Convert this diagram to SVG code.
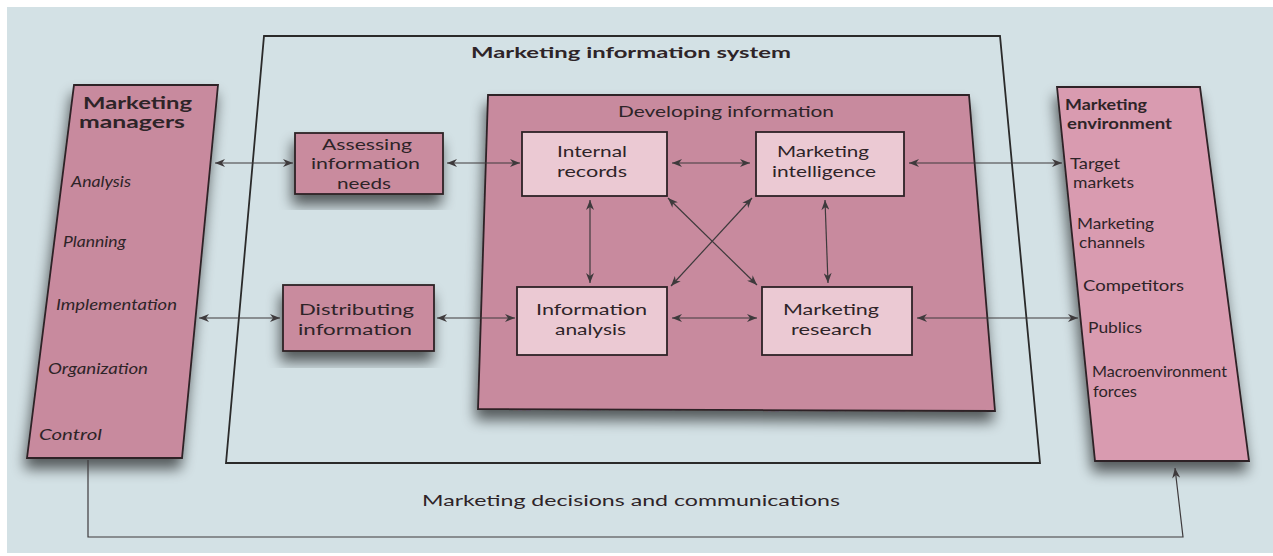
<svg xmlns="http://www.w3.org/2000/svg" width="1273" height="556" viewBox="0 0 1273 556">
<defs>
<style>
text{font-family:Lato,"Open Sans","Liberation Sans",sans-serif;fill:#2e2428;font-size:15px}
.b{font-weight:bold;font-size:16px}
.i{font-style:italic}
.panel{fill:#c88a9e;stroke:#2e2226;stroke-width:1.8}
.light{fill:#ebc9d3;stroke:#2e2226;stroke-width:1.8}
.box{fill:#c98b9e;stroke:#2e2226;stroke-width:1.8}
.env{fill:#d99bb0;stroke:#2e2226;stroke-width:1.8}
.conn line,.conn polyline{stroke:#3e3a3c;stroke-width:1.2;fill:none}
</style>
<marker id="ah" viewBox="0 0 10 8" refX="10" refY="4" markerWidth="11" markerHeight="8" markerUnits="userSpaceOnUse" orient="auto-start-reverse">
<path d="M0,0 L10,4 L0,8 L3,4 z" fill="#3e3a3c"/>
</marker>
<filter id="sh" x="-25%" y="-20%" width="150%" height="145%">
<feGaussianBlur in="SourceAlpha" stdDeviation="7"/>
<feOffset dx="-2" dy="10" result="b"/>
<feComponentTransfer><feFuncA type="linear" slope="0.6"/></feComponentTransfer>
<feMerge><feMergeNode/><feMergeNode in="SourceGraphic"/></feMerge>
</filter>
</defs>
<rect x="0" y="0" width="1273" height="556" fill="#ffffff"/>
<rect x="7" y="7" width="1266" height="546" fill="#d3e1e5"/>

<g id="mis-frame">
<polygon points="264,36 1000,36 1040,463 226,463" fill="none" stroke="#2a2a2a" stroke-width="1.8"/>
<text class="b" x="471" y="58" textLength="320" lengthAdjust="spacingAndGlyphs">Marketing information system</text>
</g>

<g id="marketing-managers">
<polygon class="panel" filter="url(#sh)" points="74,85 218,85 182,458 27,458"/>
<text class="b" x="83" y="109" textLength="109" lengthAdjust="spacingAndGlyphs" style="font-size:17px">Marketing</text>
<text class="b" x="79" y="128" textLength="106" lengthAdjust="spacingAndGlyphs" style="font-size:17px">managers</text>
<text class="i" x="71" y="187" textLength="60" lengthAdjust="spacingAndGlyphs">Analysis</text>
<text class="i" x="63" y="247" textLength="63" lengthAdjust="spacingAndGlyphs">Planning</text>
<text class="i" x="56" y="310" textLength="121" lengthAdjust="spacingAndGlyphs">Implementation</text>
<text class="i" x="48" y="374" textLength="100" lengthAdjust="spacingAndGlyphs">Organization</text>
<text class="i" x="39" y="440" textLength="63" lengthAdjust="spacingAndGlyphs">Control</text>
</g>

<g id="developing-information">
<polygon class="panel" filter="url(#sh)" points="488,95 969,95 995,411 478,409"/>
<text x="618" y="117" textLength="216" lengthAdjust="spacingAndGlyphs">Developing information</text>
</g>

<g id="assessing">
<rect class="box" filter="url(#sh)" x="295" y="133" width="148" height="61"/>
<text x="322" y="150" textLength="90" lengthAdjust="spacingAndGlyphs">Assessing</text>
<text x="311" y="169" textLength="109" lengthAdjust="spacingAndGlyphs">information</text>
<text x="337" y="189" textLength="54" lengthAdjust="spacingAndGlyphs">needs</text>
</g>

<g id="distributing">
<rect class="box" filter="url(#sh)" x="283" y="285" width="151" height="66"/>
<text x="299" y="315" textLength="115" lengthAdjust="spacingAndGlyphs">Distributing</text>
<text x="298" y="335" textLength="114" lengthAdjust="spacingAndGlyphs">information</text>
</g>

<g id="internal-records">
<rect class="light" x="522" y="132" width="145" height="64"/>
<text x="557" y="157" textLength="70" lengthAdjust="spacingAndGlyphs">Internal</text>
<text x="557" y="177" textLength="70" lengthAdjust="spacingAndGlyphs">records</text>
</g>

<g id="marketing-intelligence">
<rect class="light" x="756" y="132" width="148" height="64"/>
<text x="777" y="157" textLength="92" lengthAdjust="spacingAndGlyphs">Marketing</text>
<text x="772" y="177" textLength="104" lengthAdjust="spacingAndGlyphs">intelligence</text>
</g>

<g id="information-analysis">
<rect class="light" x="517" y="287" width="150" height="68"/>
<text x="536" y="315" textLength="111" lengthAdjust="spacingAndGlyphs">Information</text>
<text x="555" y="335" textLength="71" lengthAdjust="spacingAndGlyphs">analysis</text>
</g>

<g id="marketing-research">
<rect class="light" x="762" y="287" width="150" height="68"/>
<text x="783" y="315" textLength="96" lengthAdjust="spacingAndGlyphs">Marketing</text>
<text x="791" y="335" textLength="81" lengthAdjust="spacingAndGlyphs">research</text>
</g>

<g id="marketing-environment">
<polygon class="env" filter="url(#sh)" points="1057,87 1200,87 1249,461 1095,461"/>
<text class="b" x="1065" y="110" textLength="82" lengthAdjust="spacingAndGlyphs" style="font-size:15px">Marketing</text>
<text class="b" x="1067" y="129" textLength="105" lengthAdjust="spacingAndGlyphs" style="font-size:15px">environment</text>
<text x="1070" y="169" textLength="50" lengthAdjust="spacingAndGlyphs">Target</text>
<text x="1073" y="188" textLength="61" lengthAdjust="spacingAndGlyphs">markets</text>
<text x="1077" y="229" textLength="77" lengthAdjust="spacingAndGlyphs">Marketing</text>
<text x="1079" y="248" textLength="66" lengthAdjust="spacingAndGlyphs">channels</text>
<text x="1083" y="291" textLength="101" lengthAdjust="spacingAndGlyphs">Competitors</text>
<text x="1088" y="333" textLength="54" lengthAdjust="spacingAndGlyphs">Publics</text>
<text x="1092" y="377" textLength="135" lengthAdjust="spacingAndGlyphs">Macroenvironment</text>
<text x="1093" y="397" textLength="44" lengthAdjust="spacingAndGlyphs">forces</text>
</g>

<g id="connectors" class="conn">
<line x1="215" y1="163" x2="293" y2="163" marker-start="url(#ah)" marker-end="url(#ah)"/>
<line x1="447" y1="163" x2="520" y2="163" marker-start="url(#ah)" marker-end="url(#ah)"/>
<line x1="672" y1="163" x2="750" y2="163" marker-start="url(#ah)" marker-end="url(#ah)"/>
<line x1="909" y1="163" x2="1062" y2="163" marker-start="url(#ah)" marker-end="url(#ah)"/>
<line x1="199" y1="318" x2="280" y2="318" marker-start="url(#ah)" marker-end="url(#ah)"/>
<line x1="437" y1="318" x2="515" y2="318" marker-start="url(#ah)" marker-end="url(#ah)"/>
<line x1="672" y1="318" x2="757" y2="318" marker-start="url(#ah)" marker-end="url(#ah)"/>
<line x1="917" y1="318" x2="1078" y2="318" marker-start="url(#ah)" marker-end="url(#ah)"/>
<line x1="590" y1="200" x2="590" y2="283" marker-start="url(#ah)" marker-end="url(#ah)"/>
<line x1="825" y1="200" x2="828" y2="283" marker-start="url(#ah)" marker-end="url(#ah)"/>
<line x1="668" y1="198" x2="757" y2="285" marker-start="url(#ah)" marker-end="url(#ah)"/>
<line x1="752" y1="198" x2="671" y2="286" marker-start="url(#ah)" marker-end="url(#ah)"/>
<polyline points="88,460 88,537 1183,537 1175,468" marker-end="url(#ah)"/>
</g>

<g id="feedback-label">
<text x="422" y="506" textLength="418" lengthAdjust="spacingAndGlyphs">Marketing decisions and communications</text>
</g>
</svg>
